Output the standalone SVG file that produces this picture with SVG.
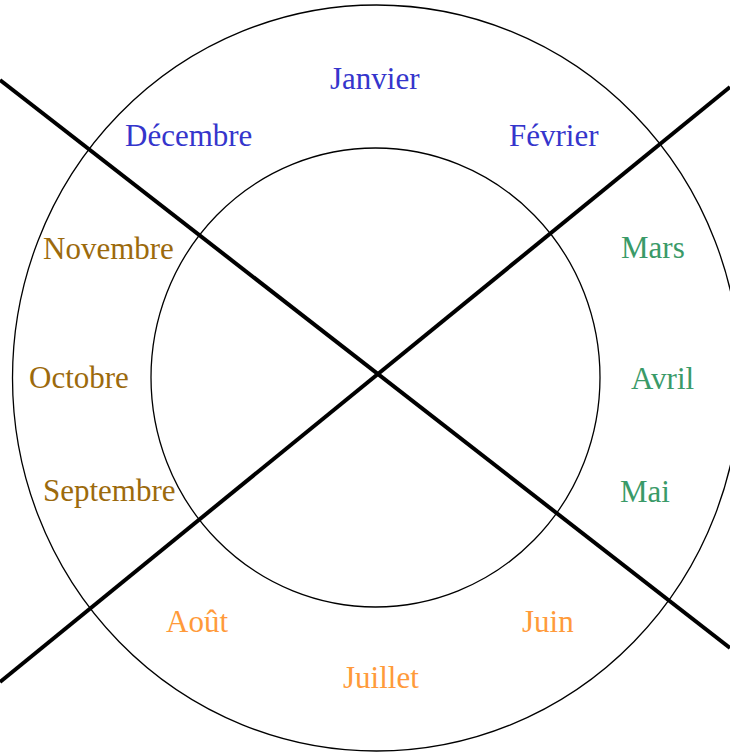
<svg xmlns="http://www.w3.org/2000/svg" width="730" height="753" viewBox="0 0 730 753">
<style>
.ring{fill:none;stroke:#000;stroke-width:1.3}
.cut{stroke:#000;stroke-width:4;fill:none}
text{font-family:"Liberation Serif","Times New Roman",serif;font-size:31px}
.hiver{fill:#3535cc}
.automne{fill:#9c6a0c}
.printemps{fill:#3a9a68}
.ete{fill:#ff9a3a}
</style>
<rect width="730" height="753" fill="#fff"/>
<g id="rings">
<ellipse id="outer" class="ring" cx="376.5" cy="378" rx="364" ry="373"/>
<ellipse id="inner" class="ring" cx="375.5" cy="377.5" rx="224.5" ry="229.5"/>
</g>
<g id="connectors">
<line class="cut" x1="0" y1="80" x2="730" y2="648"/>
<line class="cut" x1="0" y1="682" x2="730" y2="87"/>
</g>
<g id="janvier"><text class="hiver" x="330" y="89">Janvier</text></g>
<g id="fevrier"><text class="hiver" x="509" y="146">Février</text></g>
<g id="decembre"><text class="hiver" x="125" y="146">Décembre</text></g>
<g id="mars"><text class="printemps" x="621" y="258">Mars</text></g>
<g id="avril"><text class="printemps" x="631" y="389">Avril</text></g>
<g id="mai"><text class="printemps" x="620" y="502">Mai</text></g>
<g id="juin"><text class="ete" x="522" y="632">Juin</text></g>
<g id="juillet"><text class="ete" x="343" y="688">Juillet</text></g>
<g id="aout"><text class="ete" x="166" y="632">Août</text></g>
<g id="septembre"><text class="automne" x="43" y="501">Septembre</text></g>
<g id="octobre"><text class="automne" x="29" y="388">Octobre</text></g>
<g id="novembre"><text class="automne" x="43" y="259">Novembre</text></g>
</svg>
